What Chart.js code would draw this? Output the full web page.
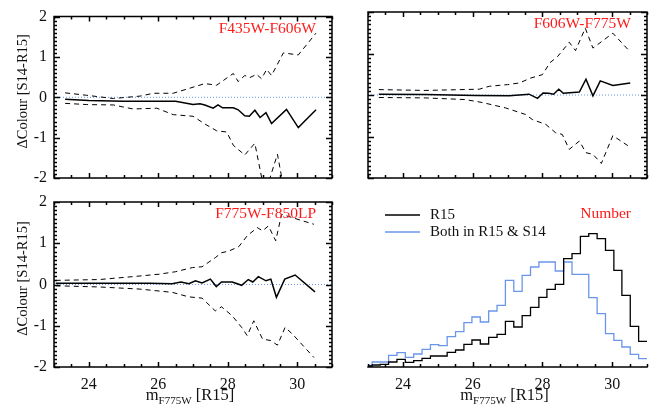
<!DOCTYPE html>
<html>
<head>
<meta charset="utf-8">
<script src="https://cdn.jsdelivr.net/npm/chart.js@4.4.1/dist/chart.umd.min.js"></script>
<style>
  body { margin: 0; background: #fff; }
  #wrap { position: relative; width: 655px; height: 407px; }
  #wrap canvas { position: absolute; left: 0; top: 0; }
</style>
</head>
<body>
<div id="wrap">
  <canvas id="pA" width="655" height="407"></canvas>
  <canvas id="pB" width="655" height="407"></canvas>
  <canvas id="pC" width="655" height="407"></canvas>
  <canvas id="pD" width="655" height="407"></canvas>
</div>
<script>
// ---- data ----
const xTicks = [24, 26, 28, 30];
const yTicks = [-2, -1, 0, 1, 2];
const zeroX = [23, 31];
const zeroY = [0, 0];

// F435W-F606W
const aSolidX = [23.32, 24.0, 25.0, 26.0, 26.5, 27.0, 27.2, 27.34, 27.58, 27.72, 27.85, 28.16, 28.3, 28.49, 28.62, 28.78, 28.93, 29.1, 29.26, 29.69, 30.03, 30.54];
const aSolidY = [-0.05, -0.08, -0.1, -0.1, -0.1, -0.18, -0.16, -0.19, -0.27, -0.19, -0.26, -0.26, -0.31, -0.46, -0.47, -0.32, -0.5, -0.38, -0.65, -0.3, -0.75, -0.31];
const aUpperX = [23.32, 23.94, 24.71, 25.48, 25.86, 26.43, 27.0, 27.34, 27.68, 28.16, 28.3, 28.49, 28.64, 28.83, 28.97, 29.12, 29.26, 29.6, 30.03, 30.54];
const aUpperY = [0.11, 0.05, -0.03, 0.03, 0.10, 0.10, 0.25, 0.34, 0.30, 0.59, 0.39, 0.54, 0.49, 0.57, 0.46, 0.69, 0.54, 1.10, 1.05, 1.59];
const aLowerX = [23.32, 23.94, 24.71, 25.28, 25.96, 26.43, 27.0, 27.34, 27.68, 27.97, 28.16, 28.49, 28.78, 29.07, 29.43, 29.62, 30.03, 30.54];
const aLowerY = [-0.15, -0.18, -0.19, -0.29, -0.27, -0.43, -0.47, -0.66, -0.83, -0.86, -1.19, -1.43, -1.14, -2.4, -1.41, -2.3, -2.9, -2.7];

// F606W-F775W
const bSolidX = [23.31, 24.64, 26.09, 27.05, 27.62, 27.86, 28.02, 28.18, 28.32, 28.47, 28.6, 29.06, 29.25, 29.45, 29.66, 30.02, 30.52];
const bSolidY = [0.02, 0.01, -0.01, -0.02, 0.02, -0.08, 0.05, 0.04, 0.02, 0.14, 0.04, 0.07, 0.38, -0.02, 0.34, 0.23, 0.29];
const bUpperX = [23.31, 24.64, 26.19, 26.48, 27.0, 27.34, 27.67, 28.0, 28.22, 28.44, 28.77, 28.95, 29.23, 29.45, 30.02, 30.45];
const bUpperY = [0.13, 0.11, 0.14, 0.21, 0.25, 0.29, 0.41, 0.49, 0.78, 0.93, 1.27, 1.07, 1.61, 1.13, 1.49, 1.10];
const bLowerX = [23.31, 24.64, 25.79, 26.27, 26.94, 27.52, 27.71, 28.1, 28.38, 28.57, 28.77, 29.06, 29.25, 29.45, 29.69, 30.02, 30.45];
const bLowerY = [-0.06, -0.07, -0.11, -0.18, -0.31, -0.47, -0.59, -0.71, -0.91, -0.95, -1.31, -1.11, -1.39, -1.43, -1.65, -0.98, -1.22];

// F775W-F850LP
const cSolidX = [23.05, 24.3, 25.74, 26.4, 26.65, 26.88, 27.07, 27.26, 27.5, 27.67, 27.82, 28.13, 28.4, 28.59, 28.72, 28.88, 29.1, 29.24, 29.4, 29.64, 29.94, 30.51];
const cSolidY = [0.03, 0.03, 0.03, 0.02, 0.06, 0.02, 0.09, 0.04, 0.13, -0.05, 0.06, 0.06, -0.02, 0.12, 0.06, 0.19, 0.09, 0.13, -0.31, 0.13, 0.23, -0.18];
const cUpperX = [23.05, 24.3, 25.26, 26.03, 26.5, 26.98, 27.26, 27.64, 27.82, 28.03, 28.32, 28.56, 28.85, 29.0, 29.17, 29.38, 29.55, 29.86, 30.48];
const cUpperY = [0.10, 0.12, 0.19, 0.25, 0.31, 0.41, 0.43, 0.65, 0.77, 0.81, 0.92, 1.18, 1.38, 1.30, 1.42, 1.06, 1.70, 1.62, 1.46];
const cLowerX = [23.05, 24.3, 25.45, 26.4, 26.88, 27.26, 27.64, 27.82, 28.13, 28.4, 28.56, 28.75, 29.0, 29.24, 29.43, 29.65, 29.86, 30.48];
const cLowerY = [-0.03, -0.06, -0.11, -0.19, -0.30, -0.33, -0.64, -0.54, -0.76, -1.04, -1.24, -0.88, -1.32, -1.36, -1.47, -1.04, -1.2, -1.77];

// histogram (Number), bin edges and counts (arbitrary units)
const binEdges = [23.00, 23.12, 23.35, 23.59, 23.83, 24.07, 24.31, 24.55, 24.79, 25.03, 25.27, 25.51, 25.75, 25.98, 26.22, 26.46, 26.70, 26.94, 27.18, 27.42, 27.66, 27.90, 28.13, 28.37, 28.61, 28.85, 29.09, 29.33, 29.57, 29.81, 30.05, 30.28, 30.52, 30.76, 31.00];
const countR15 = [3, 6, 8, 15, 23, 14, 19, 26, 33, 33, 44, 51, 68, 81, 69, 89, 98, 137, 120, 154, 179, 209, 233, 248, 325, 340, 392, 400, 385, 350, 290, 215, 122, 77];
const countBoth = [5, 15, 15, 35, 43, 29, 39, 53, 67, 64, 91, 106, 133, 150, 135, 168, 185, 260, 227, 275, 300, 315, 315, 288, 315, 278, 278, 208, 160, 100, 80, 60, 38, 25];

// ---- drawing ----
const W = 655, H = 407;
const SERIF = "'Liberation Serif', 'Times New Roman', serif";
const BLUE = "#6a96ea";

function pts(xs, ys) {
    return xs.map((x, i) => ({ x: x, y: ys[i] }));
}

function steps(edges, counts) {
    return edges.map((x, i) => ({ x: x, y: counts[Math.min(i, counts.length - 1)] }));
}

// IDL-style box with inward ticks, panel labels, titles, legend
const panelPlugin = {
    id: "panel",
    afterDatasetsDraw(chart, args, o) {
        const ctx = chart.ctx, a = chart.chartArea;
        const xs = chart.scales.x, ys = chart.scales.y;
        ctx.save();
        ctx.strokeStyle = "#000";
        ctx.lineWidth = 1.5;
        ctx.beginPath();
        (o.sides || []).forEach(side => {
            if (side === "left" || side === "right") {
                const x0 = side === "left" ? a.left : a.right;
                const d = side === "left" ? 1 : -1;
                ctx.moveTo(x0, a.top - 0.75);
                ctx.lineTo(x0, a.bottom + 0.75);
                for (let i = 0; i <= 40; i++) {
                    const v = ys.min + i * 0.1;
                    const major = Math.abs(v - Math.round(v)) < 1e-6;
                    const py = Math.round(ys.getPixelForValue(v)) + 0.5;
                    ctx.moveTo(x0, py);
                    ctx.lineTo(x0 + d * (major ? 6 : 3), py);
                }
            } else {
                const y0 = side === "bottom" ? a.bottom : a.top;
                const d = side === "bottom" ? -1 : 1;
                ctx.moveTo(a.left - 0.75, y0);
                ctx.lineTo(a.right + 0.75, y0);
                for (let i = 0; i <= 16; i++) {
                    const v = xs.min + i * 0.5;
                    const major = xTicks.indexOf(v) >= 0;
                    const px = Math.round(xs.getPixelForValue(v)) + 0.5;
                    ctx.moveTo(px, y0);
                    ctx.lineTo(px, y0 + d * (major ? 5 : 3));
                }
            }
        });
        ctx.stroke();

        if (o.label) {
            ctx.fillStyle = "#ff1a1a";
            ctx.font = "15.5px " + SERIF;
            ctx.textAlign = "right";
            ctx.textBaseline = "alphabetic";
            ctx.fillText(o.label, a.right - 16, a.top + 16);
        }

        if (o.yTitle) {
            ctx.save();
            ctx.translate(23, (a.top + a.bottom) / 2 - 6);
            ctx.rotate(-Math.PI / 2);
            ctx.fillStyle = "#111";
            ctx.font = "14.5px " + SERIF;
            ctx.textAlign = "center";
            ctx.textBaseline = "middle";
            ctx.fillText(o.yTitle, 0, 0);
            ctx.restore();
        }

        if (o.xTitle) {
            const parts = [["m", 16.5, 0], ["F775W", 11, 4], [" [R15]", 16.5, 0]];
            let total = 0;
            parts.forEach(p => {
                ctx.font = p[1] + "px " + SERIF;
                total += ctx.measureText(p[0]).width;
            });
            let x = (a.left + a.right) / 2 - 3 - total / 2;
            ctx.fillStyle = "#111";
            ctx.textAlign = "left";
            ctx.textBaseline = "alphabetic";
            parts.forEach(p => {
                ctx.font = p[1] + "px " + SERIF;
                ctx.fillText(p[0], x, 400 + p[2]);
                x += ctx.measureText(p[0]).width;
            });
        }

        if (o.legend) {
            chart.data.datasets.forEach((ds, i) => {
                const ly = a.top + 13 + i * 17;
                ctx.strokeStyle = ds.borderColor;
                ctx.lineWidth = 1.3;
                ctx.beginPath();
                ctx.moveTo(a.left + 17, ly);
                ctx.lineTo(a.left + 52, ly);
                ctx.stroke();
                ctx.fillStyle = "#111";
                ctx.font = "15px " + SERIF;
                ctx.textAlign = "left";
                ctx.textBaseline = "alphabetic";
                ctx.fillText(ds.label, a.left + 62, ly + 4);
            });
        }
        ctx.restore();
    }
};

function xScale(showLabels) {
    const s = {
        type: "linear",
        min: 23,
        max: 31,
        display: showLabels,
        afterBuildTicks: sc => { sc.ticks = xTicks.map(v => ({ value: v })); },
        grid: { display: false, drawTicks: false },
        border: { display: false },
        ticks: { color: "#111", padding: 8, maxRotation: 0, font: { family: SERIF, size: 16 } }
    };
    if (showLabels) s.afterFit = sc => { sc.height = 40; };
    return s;
}

function deltaChart(id, area, solid, upper, lower, opts) {
    const yW = opts.yLabels ? 54 : 0;
    const xH = opts.xLabels ? 40 : 0;
    const dashed = { borderColor: "#000", borderWidth: 1, borderDash: [5, 4] };

    const yScale = {
        min: -2,
        max: 2,
        display: opts.yLabels,
        afterBuildTicks: s => { s.ticks = yTicks.map(v => ({ value: v })); },
        grid: { display: false, drawTicks: false },
        border: { display: false },
        ticks: { color: "#111", padding: 7, font: { family: SERIF, size: 16 } }
    };
    if (opts.yLabels) yScale.afterFit = s => { s.width = 54; };

    new Chart(document.getElementById(id), {
        type: "line",
        data: {
            datasets: [
                { data: solid, borderColor: "#000", borderWidth: 1.5 },
                Object.assign({ data: upper }, dashed),
                Object.assign({ data: lower }, dashed),
                { data: pts(zeroX, zeroY), borderColor: BLUE, borderWidth: 1, borderDash: [1, 2] }
            ]
        },
        options: {
            responsive: false,
            animation: false,
            devicePixelRatio: 1,
            elements: { point: { radius: 0 }, line: { tension: 0 } },
            layout: {
                padding: {
                    left: area.left - yW,
                    top: area.top,
                    right: W - area.right,
                    bottom: H - area.bottom - xH
                }
            },
            scales: {
                x: xScale(opts.xLabels),
                y: yScale
            },
            plugins: {
                legend: { display: false },
                tooltip: { enabled: false },
                panel: {
                    sides: ["left", "right", "top", "bottom"],
                    label: opts.label,
                    yTitle: opts.yLabels ? "ΔColour [S14-R15]" : null,
                    xTitle: opts.xLabels
                }
            }
        },
        plugins: [panelPlugin]
    });
}

deltaChart("pA", { left: 54, top: 12, right: 332, bottom: 178 },
    pts(aSolidX, aSolidY), pts(aUpperX, aUpperY), pts(aLowerX, aLowerY),
    { label: "F435W-F606W", yLabels: true, xLabels: false });

deltaChart("pB", { left: 368, top: 12, right: 647, bottom: 178 },
    pts(bSolidX, bSolidY), pts(bUpperX, bUpperY), pts(bLowerX, bLowerY),
    { label: "F606W-F775W", yLabels: false, xLabels: false });

deltaChart("pC", { left: 54, top: 202, right: 332, bottom: 367 },
    pts(cSolidX, cSolidY), pts(cUpperX, cUpperY), pts(cLowerX, cLowerY),
    { label: "F775W-F850LP", yLabels: true, xLabels: true });

// Number histogram
const histArea = { left: 368, top: 202, right: 647, bottom: 367 };
new Chart(document.getElementById("pD"), {
    type: "line",
    data: {
        datasets: [
            { label: "R15", data: steps(binEdges, countR15), borderColor: "#000", borderWidth: 1.3, stepped: true },
            { label: "Both in R15 & S14", data: steps(binEdges, countBoth), borderColor: BLUE, borderWidth: 1.3, stepped: true }
        ]
    },
    options: {
        responsive: false,
        animation: false,
        devicePixelRatio: 1,
        elements: { point: { radius: 0 }, line: { tension: 0 } },
        layout: {
            padding: {
                left: histArea.left,
                top: histArea.top,
                right: W - histArea.right,
                bottom: H - histArea.bottom - 40
            }
        },
        scales: {
            x: xScale(true),
            y: { min: 0, max: 495, display: false }
        },
        plugins: {
            legend: { display: false },
            tooltip: { enabled: false },
            panel: { sides: ["bottom"], label: "Number", xTitle: true, legend: true }
        }
    },
    plugins: [panelPlugin]
});
</script>
</body>
</html>
